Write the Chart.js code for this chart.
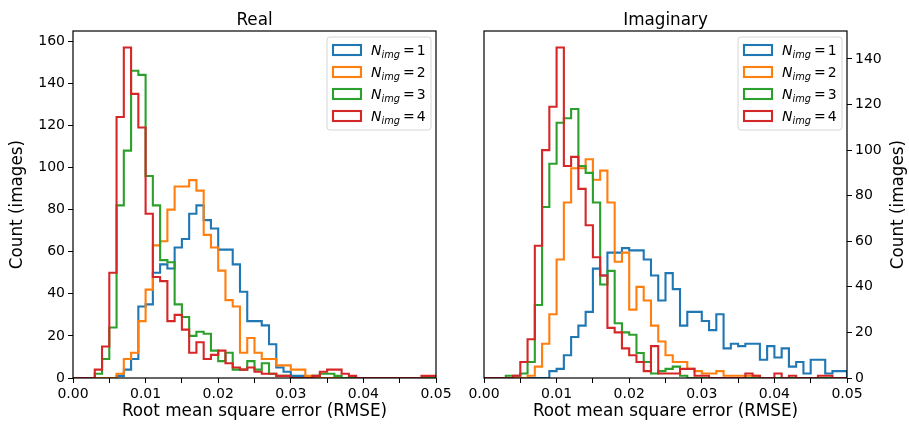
<!DOCTYPE html>
<html>
<head>
<meta charset="utf-8">
<script src="https://cdn.jsdelivr.net/npm/chart.js@4.4.1/dist/chart.umd.min.js"></script>
<style>
  html, body { margin: 0; padding: 0; background: #ffffff; }
  #wrap { position: relative; width: 909px; height: 424px; overflow: hidden; background: #ffffff; }
  #wrap canvas { position: absolute; top: 0; }
</style>
</head>
<body>
<div id="wrap">
  <canvas id="realChart" width="455" height="424" style="left:0px"></canvas>
  <canvas id="imagChart" width="454" height="424" style="left:455px"></canvas>
</div>
<script>
// Histogram bins: 50 bins of width 0.001 starting at RMSE = 0
const BIN_START = 0;
const BIN_WIDTH = 0.001;

// Legend entries: N_img = 1 .. 4
const legendSymbol = 'N';
const legendSubscript = 'img';
const nImgValues = ['1', '2', '3', '4'];
const seriesColors = ['#1f77b4', '#ff7f0e', '#2ca02c', '#d62728'];

// Counts per bin, real part
const realN1 = [0,0,0,0,0,0,1,4,9,34,35,50,54,52,62,66,78,82,75,71,61,61,54,41,27,27,25,16,5,3,1,1,0,0,0,0,0,0,0,0,0,0,0,0,0,0,0,0,0,0];
const realN2 = [0,0,0,0,0,0,2,9,12,27,42,63,65,80,91,91,94,89,68,62,51,37,34,12,19,12,9,9,6,6,4,4,1,0,0,0,0,0,0,0,0,0,0,0,0,0,0,0,0,0];
const realN3 = [0,0,0,2,9,24,82,108,146,144,96,82,56,55,35,29,20,22,21,13,8,12,4,4,8,4,7,2,1,1,0,0,0,1,2,2,1,0,0,0,0,0,0,0,0,0,0,0,0,0];
const realN4 = [0,0,0,4,15,50,124,157,135,119,78,48,46,27,30,23,12,17,9,11,13,7,5,4,5,3,2,2,1,1,0,0,0,1,3,4,4,2,1,0,0,0,0,0,0,0,0,0,1,1];

// Counts per bin, imaginary part
const imagN1 = [0,0,0,0,0,0,0,0,0,3,4,10,18,23,29,48,45,55,55,57,56,56,52,45,34,46,39,23,29,29,25,21,28,13,15,14,15,15,8,14,9,13,5,7,2,8,8,2,3,3];
const imagN2 = [0,0,0,0,0,0,1,5,15,28,52,77,92,92,96,87,91,77,51,55,30,40,34,23,16,10,7,7,4,3,2,2,3,1,1,1,1,1,0,0,0,0,0,0,0,0,0,0,0,0];
const imagN3 = [0,0,0,1,1,2,7,32,75,94,112,114,118,93,90,77,41,47,24,20,19,11,7,2,3,4,5,1,0,0,0,0,0,0,0,0,0,0,0,0,0,0,0,0,0,0,0,0,0,0];
const imagN4 = [0,0,0,0,1,7,17,58,100,119,145,93,97,83,67,53,45,22,20,13,10,7,3,14,2,2,2,4,4,1,1,0,0,0,0,0,2,1,0,0,2,0,1,0,0,0,1,1,0,0];

// Axis ranges and ticks
const xMin = 0, xMax = 0.05, xTickStep = 0.005;
const yTickStep = 20;
const realYMax = 164.85;
const imagYMax = 152.25;

const FONT = "'DejaVu Sans'";

// Outline of a step histogram: rise at the first edge, fall at the last edge
function stepPoints(counts) {
  const pts = [{ x: BIN_START, y: 0 }];
  counts.forEach((c, i) => pts.push({ x: BIN_START + i * BIN_WIDTH, y: c }));
  const last = BIN_START + counts.length * BIN_WIDTH;
  pts.push({ x: last, y: counts[counts.length - 1] });
  pts.push({ x: last, y: 0 });
  return pts;
}

// Frame, titles and legend drawn on top of the plotted outlines
const panelDecor = {
  id: 'panelDecor',
  afterDatasetsDraw(chart, args, opts) {
    const ctx = chart.ctx;
    const a = chart.chartArea;
    const cx = (a.left + a.right) / 2;
    ctx.save();

    // axes box
    ctx.strokeStyle = '#000000';
    ctx.lineWidth = 1.2;
    ctx.strokeRect(a.left, a.top, a.right - a.left, a.bottom - a.top);

    ctx.fillStyle = '#000000';
    ctx.textAlign = 'center';
    ctx.textBaseline = 'alphabetic';
    ctx.font = '16.8px ' + FONT;
    ctx.fillText(opts.title, cx, a.top - 6);
    ctx.fillText(opts.xTitle, cx, 416);

    ctx.save();
    ctx.translate(opts.yTitleX, (a.top + a.bottom) / 2);
    ctx.rotate(-Math.PI / 2);
    ctx.textBaseline = 'middle';
    ctx.fillText(opts.yTitle, 0, 0);
    ctx.restore();

    // legend
    const fw = 104, fh = 93;
    const fx = a.right - 5 - fw, fy = a.top + 6;
    ctx.beginPath();
    ctx.roundRect(fx, fy, fw, fh, 3);
    ctx.fillStyle = 'rgba(255,255,255,0.8)';
    ctx.fill();
    ctx.strokeStyle = '#d6d6d6';
    ctx.lineWidth = 1;
    ctx.stroke();

    ctx.textAlign = 'left';
    ctx.textBaseline = 'alphabetic';
    nImgValues.forEach((v, i) => {
      const rowY = fy + 13 + i * 22;
      ctx.strokeStyle = seriesColors[i];
      ctx.lineWidth = 2.1;
      ctx.strokeRect(fx + 6, rowY - 5, 28, 10);

      ctx.fillStyle = '#000000';
      let x = fx + 44;
      const base = rowY + 5;
      ctx.font = 'italic 14px ' + FONT;
      ctx.fillText(legendSymbol, x, base);
      x += ctx.measureText(legendSymbol).width;
      ctx.font = 'italic 9.8px ' + FONT;
      ctx.fillText(legendSubscript, x, base + 3);
      x += ctx.measureText(legendSubscript).width + 3;
      ctx.font = '14px ' + FONT;
      ctx.fillText('=', x, base);
      x += ctx.measureText('=').width + 2;
      ctx.fillText(v, x, base);
    });

    ctx.restore();
  }
};

function axisStyle() {
  return {
    grid: { drawOnChartArea: false, drawTicks: true, tickLength: 5, color: '#000000', lineWidth: 1 },
    border: { display: false }
  };
}

function makeChart(canvasId, series, o) {
  return new Chart(document.getElementById(canvasId), {
    type: 'line',
    data: {
      datasets: series.map((counts, i) => ({
        label: legendSymbol + legendSubscript + ' = ' + nImgValues[i],
        data: stepPoints(counts),
        borderColor: seriesColors[i],
        borderWidth: 2.1,
        pointRadius: 0,
        // horizontal run at the bin's count, then the jump at the next edge
        stepped: 'before',
        fill: false,
        tension: 0,
        order: series.length - i
      }))
    },
    options: {
      responsive: false,
      animation: false,
      events: [],
      layout: { padding: o.padding },
      plugins: {
        legend: { display: false },
        tooltip: { enabled: false },
        panelDecor: { title: o.title, xTitle: 'Root mean square error (RMSE)', yTitle: 'Count (images)', yTitleX: o.yTitleX }
      },
      scales: {
        x: Object.assign({
          type: 'linear', min: xMin, max: xMax,
          afterFit: s => { s.height = 46; },
          ticks: {
            stepSize: xTickStep, autoSkip: false, maxRotation: 0, minRotation: 0, padding: 3,
            color: '#000000', font: { family: FONT, size: 14 },
            callback: v => {
              const k = Math.round(v / xTickStep);
              return k % 2 === 0 ? (k * xTickStep).toFixed(2) : '';
            }
          }
        }, axisStyle()),
        y: Object.assign({
          type: 'linear', position: o.yPos, min: 0, max: o.yMax,
          afterFit: s => { s.width = o.yWidth; },
          ticks: {
            stepSize: yTickStep, includeBounds: false, padding: 3,
            color: '#000000', font: { family: FONT, size: 14 },
            callback: v => String(Math.round(v))
          }
        }, axisStyle())
      }
    },
    plugins: [panelDecor]
  });
}

makeChart('realChart', [realN1, realN2, realN3, realN4], {
  title: 'Real', yPos: 'left', yMax: realYMax, yWidth: 73, yTitleX: 18,
  padding: { left: 0, right: 19, top: 31, bottom: 0 }
});

makeChart('imagChart', [imagN1, imagN2, imagN3, imagN4], {
  title: 'Imaginary', yPos: 'right', yMax: imagYMax, yWidth: 62, yTitleX: 444,
  padding: { left: 29, right: 0, top: 31, bottom: 0 }
});
</script>
</body>
</html>
